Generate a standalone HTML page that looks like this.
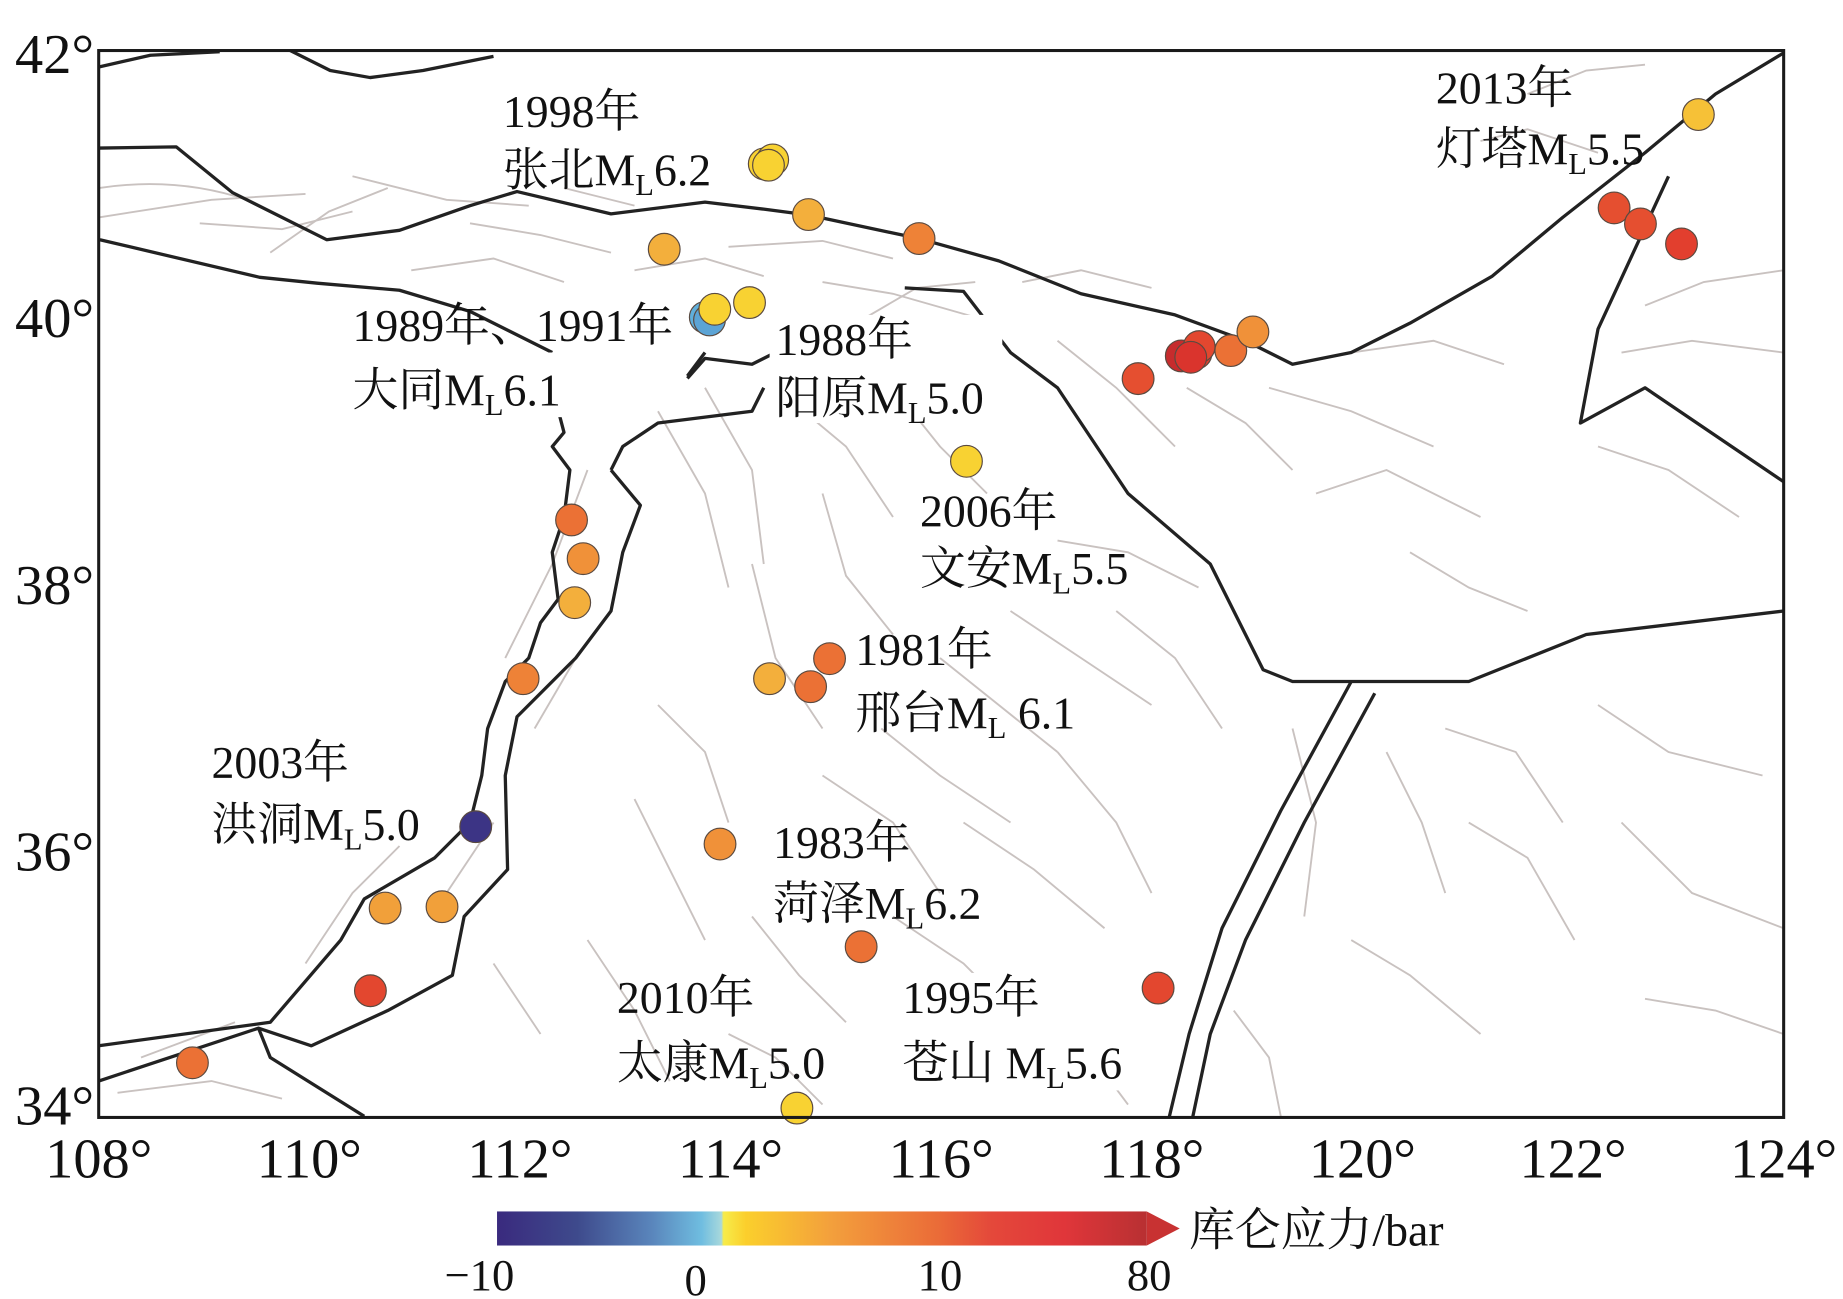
<!DOCTYPE html>
<html><head><meta charset="utf-8"><style>
html,body{margin:0;padding:0;background:#fff;}
svg{display:block;}
text{font-family:"Liberation Serif","Noto Serif CJK SC",serif;fill:#111;}
</style></head><body>
<svg id="chart" width="1843" height="1299" viewBox="0 0 1568.5 1105.5" xmlns="http://www.w3.org/2000/svg">
<defs>
<linearGradient id="cbg" x1="0" x2="1" y1="0" y2="0">
<stop offset="0" stop-color="#3a2a7e"/><stop offset="0.18" stop-color="#3e4a8c"/><stop offset="0.35" stop-color="#5a86bc"/><stop offset="0.46" stop-color="#6fbde0"/><stop offset="0.505" stop-color="#a8d8dc"/><stop offset="0.51" stop-color="#f7ec4a"/><stop offset="0.56" stop-color="#fbcf2c"/><stop offset="0.75" stop-color="#f3a03c"/><stop offset="1" stop-color="#ea6a38"/>
</linearGradient>
<linearGradient id="cbg2" x1="0" x2="1" y1="0" y2="0">
<stop offset="0" stop-color="#ea6a38"/><stop offset="0.25" stop-color="#e4483a"/><stop offset="0.6" stop-color="#e0363a"/><stop offset="1" stop-color="#b83032"/>
</linearGradient>
<clipPath id="plotclip"><rect x="84" y="43" width="1434" height="908"/></clipPath>
</defs>
<g id="faults-thin" clip-path="url(#plotclip)" stroke="#c9c2c0" stroke-width="1.6" fill="none">
<path d="M84,160 Q150,150 210,170"/><path d="M84,185 L180,170 L260,165"/><path d="M170,190 L240,195 L300,180"/><path d="M230,215 L280,180 L330,160"/><path d="M300,150 L380,170 L450,175"/>
<path d="M350,230 L420,220 L480,240"/><path d="M400,190 L460,200 L520,215"/><path d="M480,160 L540,175"/><path d="M540,230 L600,220 L650,235"/>
<path d="M620,210 L700,205 L760,220"/><path d="M700,240 L760,250 L830,270"/><path d="M720,280 L780,245 L830,240"/><path d="M870,240 L920,230 L980,245"/>
<path d="M900,290 L950,330 L1000,380"/><path d="M1010,330 L1060,360 L1100,400"/><path d="M1080,330 L1150,350 L1220,380"/><path d="M1120,420 L1180,400 L1260,440"/>
<path d="M1150,300 L1220,290 L1280,310"/><path d="M1260,120 L1300,110 L1360,130"/><path d="M1300,80 L1350,60 L1400,55"/><path d="M1400,260 L1450,240 L1518,230"/>
<path d="M1380,300 L1440,290 L1518,300"/><path d="M1360,380 L1420,400 L1480,440"/><path d="M1200,470 L1250,500 L1300,520"/><path d="M1230,620 L1290,640 L1330,700"/>
<path d="M1250,700 L1300,730 L1340,800"/><path d="M1360,600 L1420,640 L1500,660"/><path d="M1150,800 L1200,830 L1260,880"/><path d="M1400,850 L1460,860 L1518,880"/>
<path d="M560,350 L600,420 L620,500"/><path d="M600,330 L640,400 L650,480"/><path d="M640,480 L660,560 L700,620"/><path d="M700,420 L720,490 L760,540"/>
<path d="M750,620 L800,660 L860,700"/><path d="M800,560 L850,600 L900,640"/><path d="M860,520 L920,560 L980,600"/><path d="M900,640 L950,700 L980,760"/>
<path d="M950,520 L1000,560 L1040,620"/><path d="M820,700 L880,740 L940,790"/><path d="M700,660 L760,700 L800,760"/><path d="M560,600 L600,640 L620,700"/>
<path d="M540,680 L570,740 L600,800"/><path d="M640,780 L680,830 L720,870"/><path d="M760,780 L820,820 L860,860"/><path d="M880,870 L930,900 L960,940"/>
<path d="M500,800 L540,860 L570,920"/><path d="M420,820 L460,880"/><path d="M120,900 L200,870"/><path d="M100,930 L180,920 L240,935"/>
<path d="M260,820 L300,760 L340,720"/><path d="M380,760 L420,700"/><path d="M430,560 L470,480 L500,400"/><path d="M455,620 L490,560"/>
<path d="M660,330 L720,380 L760,440"/><path d="M760,330 L800,380 L840,420"/><path d="M900,460 L960,470 L1020,500"/><path d="M1100,620 L1120,700 L1110,780"/>
<path d="M1180,640 L1210,700 L1230,760"/><path d="M1050,860 L1080,900 L1090,950"/><path d="M1380,700 L1440,760 L1518,790"/><path d="M620,880 L660,900 L700,940"/>
</g>
<g id="faults-thick" clip-path="url(#plotclip)" stroke="#222" stroke-width="2.8" fill="none" stroke-linejoin="round">
<path d="M84,57 L128,47 L187,44"/><path d="M247,43 L281,60 L315,66 L360,60 L420,48"/>
<path d="M85,126 L150,125 L198,164 L278,204 L340,196 L400,175 L440,163 L520,182 L600,172 L650,178 L688,183 L782,203 L850,222 L920,250 L1000,268 L1060,290 L1100,310 L1150,300 L1200,275 L1270,235 L1330,185 L1400,130 L1460,80 L1518,45"/>
<path d="M85,204 L221,236 L270,241 L340,247 L400,265 L470,300"/>
<path d="M470,330 L480,368 L470,380 L485,400 L480,440 L470,470 L475,510 L460,530 L450,560 L430,580 L415,620 L410,660 L400,700 L370,730 L310,765 L290,800 L230,870 L84,890"/>
<path d="M520,400 L545,430 L530,470 L520,520 L490,560 L440,610 L430,660 L432,740 L395,780 L385,830 L330,860 L265,890 L220,875 L84,920"/>
<path d="M220,875 L230,900 L310,950"/>
<path d="M585,322 L600,305 L640,310 L660,300"/>
<path d="M585,320 L600,300"/>
<path d="M650,330 L640,350 L560,360 L530,380 L520,400"/>
<path d="M770,245 L820,248 L860,300 L900,330 L960,420 L1030,480 L1075,570 L1100,580 L1250,580 L1350,540 L1518,520"/>
<path d="M1150,580 L1090,690 L1040,790 L1012,880 L995,951"/><path d="M1170,590 L1110,700 L1060,800 L1030,880 L1015,951"/>
<path d="M1420,150 L1360,280 L1345,360 L1400,330 L1518,410"/>
</g>
<rect x="655" y="268" width="198" height="92" fill="#fff"/>
<rect x="298" y="300" width="200" height="55" fill="#fff"/>
<rect x="764" y="828" width="210" height="100" fill="#fff"/>
<g id="points"></g>
<rect x="84" y="43" width="1434" height="908" fill="none" stroke="#1a1a1a" stroke-width="2.6"/>
<g id="yticks" font-size="48"></g>
<g id="xticks" font-size="48"></g>
<g font-size="39">
<text x="428" y="108">1998年</text>
<text x="428" y="158">张北M<tspan font-size="26" dy="8">L</tspan><tspan dy="-8">6.2</tspan></text>
<text x="1222" y="88">2013年</text>
<text x="1222" y="140">灯塔M<tspan font-size="26" dy="8">L</tspan><tspan dy="-8">5.5</tspan></text>
<text x="300" y="290">1989年、1991年</text>
<text x="300" y="345">大同M<tspan font-size="26" dy="8">L</tspan><tspan dy="-8">6.1</tspan></text>
<text x="660" y="302">1988年</text>
<text x="660" y="352">阳原M<tspan font-size="26" dy="8">L</tspan><tspan dy="-8">5.0</tspan></text>
<text x="783" y="448">2006年</text>
<text x="783" y="497">文安M<tspan font-size="26" dy="8">L</tspan><tspan dy="-8">5.5</tspan></text>
<text x="728" y="566">1981年</text>
<text x="728" y="620">邢台M<tspan font-size="26" dy="8">L</tspan><tspan dy="-8"> 6.1</tspan></text>
<text x="180" y="662">2003年</text>
<text x="180" y="715">洪洞M<tspan font-size="26" dy="8">L</tspan><tspan dy="-8">5.0</tspan></text>
<text x="658" y="730">1983年</text>
<text x="658" y="782">菏泽M<tspan font-size="26" dy="8">L</tspan><tspan dy="-8">6.2</tspan></text>
<text x="525" y="862">2010年</text>
<text x="525" y="918">太康M<tspan font-size="26" dy="8">L</tspan><tspan dy="-8">5.0</tspan></text>
<text x="768" y="862">1995年</text>
<text x="768" y="918">苍山 M<tspan font-size="26" dy="8">L</tspan><tspan dy="-8">5.6</tspan></text>
</g>
<g>
<rect x="423" y="1031" width="378" height="29" fill="url(#cbg)"/>
<rect x="800" y="1031" width="176" height="29" fill="url(#cbg2)"/>
<polygon points="976,1031 1004,1045.5 976,1060" fill="#c83232"/>
<text x="408" y="1098" font-size="38" text-anchor="middle">−10</text>
<text x="592" y="1102" font-size="38" text-anchor="middle">0</text>
<text x="800" y="1098" font-size="38" text-anchor="middle">10</text>
<text x="978" y="1098" font-size="38" text-anchor="middle">80</text>
<text x="1012" y="1060" font-size="39">库仑应力/bar</text>
</g>
</svg>
<script>
const lons = [113.37,114.32,114.40,114.36,114.74,115.79,114.18,113.76,113.80,113.85,117.87,118.28,118.42,118.45,118.37,118.75,118.96,116.24,122.39,122.64,123.03,123.19,112.49,112.60,112.52,112.03,114.37,114.76,114.94,111.58,113.90,110.72,111.26,110.58,108.89,115.24,118.06,114.63];
const lats = [40.51,41.15,41.18,41.14,40.77,40.59,40.11,40.00,39.98,40.06,39.54,39.71,39.73,39.78,39.70,39.75,39.89,38.92,40.82,40.70,40.55,41.52,38.48,38.19,37.86,37.29,37.29,37.23,37.44,36.18,36.05,35.57,35.58,34.95,34.41,35.28,34.97,34.07];
const stress = [5,3,3,3,5,8,3,-1,-1.5,3,12,40,14,13,20,9,7,3,12,12,14,4,9,7,5,8,5,9,9,-9,7,6,6,13,9,9,13,3];
const xTicks = [108,110,112,114,116,118,120,122,124];
const yTicks = [42,40,38,36,34];
const NS='http://www.w3.org/2000/svg';
function xS(lon){return 84+(lon-108)*89.625;}
function yS(lat){return 43+(42-lat)*113.5;}
function lerp(a,b,t){return a.map((v,i)=>Math.round(v+(b[i]-v)*t));}
function colorOf(v){
  const stops=[[-10,[58,42,126]],[-5,[70,90,160]],[-1,[95,175,220]],[0,[150,210,225]],[0.01,[247,232,70]],[3,[248,210,50]],[5,[243,175,60]],[8,[238,130,55]],[10,[232,95,50]],[15,[224,55,45]],[30,[205,45,45]],[80,[170,40,45]]];
  if(v<=stops[0][0])return 'rgb('+stops[0][1]+')';
  for(let i=1;i<stops.length;i++){if(v<=stops[i][0]){const t=(v-stops[i-1][0])/(stops[i][0]-stops[i-1][0]);return 'rgb('+lerp(stops[i-1][1],stops[i][1],t).join(',')+')';}}
  return 'rgb('+stops[stops.length-1][1]+')';
}
const pg=document.getElementById('points');
for(let i=0;i<lons.length;i++){
  const c=document.createElementNS(NS,'circle');
  c.setAttribute('cx',xS(lons[i]));c.setAttribute('cy',yS(lats[i]));c.setAttribute('r',13.5);
  c.setAttribute('fill',colorOf(stress[i]));c.setAttribute('stroke','#5a4a40');c.setAttribute('stroke-width','1');
  
  
  pg.appendChild(c);
}
const xg=document.getElementById('xticks');
xTicks.forEach(t=>{
  const e=document.createElementNS(NS,'text');
  e.setAttribute('x',xS(t));e.setAttribute('y',1002);e.setAttribute('text-anchor','middle');
  e.textContent=t+'°';
  
  
  xg.appendChild(e);
});
const yg=document.getElementById('yticks');
yTicks.forEach(t=>{
  const e=document.createElementNS(NS,'text');
  let y=yS(t)+17; if(t===42)y=62; if(t===34)y=957;
  e.setAttribute('x',80);e.setAttribute('y',y);e.setAttribute('text-anchor','end');
  e.textContent=t+'°';
  
  
  yg.appendChild(e);
});
</script>
</body></html>
